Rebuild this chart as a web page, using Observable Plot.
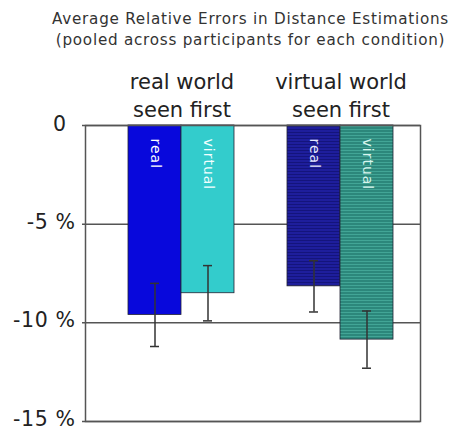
<!DOCTYPE html>
<html><head><meta charset="utf-8">
<script src="https://cdn.jsdelivr.net/npm/d3@7"></script>
<script src="https://cdn.jsdelivr.net/npm/@observablehq/plot@0.6"></script>
<style>body{margin:0;background:#fff} #chart{width:453px;height:430px}</style>
</head><body><div id="chart"></div>
<script>
// ---- data ----
const titleLines = ["Average Relative Errors in Distance Estimations", "(pooled across participants for each condition)"];
const conditions = ["real world\nseen first", "virtual world\nseen first"];
const series = ["real", "virtual"];
const meanError = [-9.6, -8.5, -8.15, -10.85];   // percent, order: cond0-real, cond0-virtual, cond1-real, cond1-virtual
const errorHalf = [1.6, 1.4, 1.3, 1.45];
const yTicks = [0, -5, -10, -15];

// ---- styles ----
const fills = ["#0808dc", "#33cccc", "url(#stripeNavy)", "url(#stripeTeal)"];
const labelFills = ["#ffffff", "#f2ffff", "#e6e8ff", "#d8f6ee"];

const key = (c, s) => c + "|" + s;
const rows = [];
conditions.forEach((c, i) => series.forEach((s, j) => {
  const k = i * series.length + j;
  rows.push({cond: c, series: s, key: key(c, s), mean: meanError[k], err: errorHalf[k], fill: fills[k], lf: labelFills[k]});
}));
const xDomain = [key(conditions[0], series[0]), key(conditions[0], series[1]), "spacer", key(conditions[1], series[0]), key(conditions[1], series[1])];
const groupRows = conditions.map(c => ({cond: c, key: key(c, series[0])}));
const font = "DejaVu Sans";

const plot = Plot.plot({
  width: 453, height: 430,
  marginTop: 125, marginBottom: 9, marginLeft: 85, marginRight: 33,
  x: {domain: xDomain, range: [127, 394], padding: 0, axis: null},
  y: {domain: [-15, 0], axis: null},
  color: {type: "identity"},
  style: {fontFamily: font, background: "#fff"},
  marks: [
    Plot.ruleY(yTicks, {stroke: "#555", strokeWidth: 1.5, insetLeft: -3}),
    Plot.barY(rows, {x: "key", y: "mean", fill: "fill", stroke: "#223", strokeWidth: 0.8}),
    Plot.text(rows, {x: "key", y: () => 0, text: "series", rotate: 90, textAnchor: "start", dy: 13, fill: "lf", fontSize: 14, ariaDescription: "bar-labels"}),
    Plot.ruleX(rows, {x: "key", y1: d => d.mean - d.err, y2: d => d.mean + d.err, stroke: "#333", strokeWidth: 1.5}),
    Plot.tickY(rows, {x: "key", y: d => d.mean - d.err, stroke: "#333", strokeWidth: 1.5, insetLeft: 22, insetRight: 22}),
    Plot.tickY(rows, {x: "key", y: d => d.mean + d.err, stroke: "#333", strokeWidth: 1.5, insetLeft: 22, insetRight: 22}),
    Plot.frame({stroke: "#555", strokeWidth: 1.5}),
    // y tick labels
    Plot.text(yTicks.filter(t => t !== 0), {y: d => d, text: d => `${d} %`, frameAnchor: "left", textAnchor: "end", lineAnchor: "middle", dx: -10, dy: -2, fontSize: 20.5, fill: "#222", ariaDescription: "y-labels"}),
    Plot.text(yTicks.filter(t => t === 0), {y: d => d, text: d => `${d}`, frameAnchor: "left", textAnchor: "middle", lineAnchor: "middle", dx: -26, dy: -1, fontSize: 20.5, fill: "#222"}),
    // group labels
    Plot.text(groupRows, {x: "key", text: "cond", frameAnchor: "top", lineAnchor: "middle", dx: 27, dy: -31.7, lineHeight: 1.32, fontSize: 21, fill: "#222"}),
    // title
    Plot.text([titleLines.join("\n")], {text: d => d, frameAnchor: "top", lineAnchor: "middle", dx: -2.5, dy: -97.5, lineHeight: 1.33, fontSize: 15.2, fill: "#333", ariaDescription: "title"})
  ]
});

const svg = d3.select(plot);
svg.select('g[aria-description="title"]').style("letter-spacing", "0.75px");
svg.select('g[aria-description="bar-labels"]').style("letter-spacing", "1px");
svg.select('g[aria-description="y-labels"]').style("letter-spacing", "0.6px");

const defs = svg.insert("defs", ":first-child");
function stripes(id, base, line) {
  const p = defs.append("pattern").attr("id", id).attr("patternUnits", "userSpaceOnUse").attr("width", 6).attr("height", 3);
  p.append("rect").attr("width", 6).attr("height", 3).attr("fill", base);
  p.append("rect").attr("width", 6).attr("height", 1).attr("fill", line);
}
stripes("stripeNavy", "#1e1e9c", "#14147c");
stripes("stripeTeal", "#2c877b", "#42a596");

document.getElementById("chart").append(plot);
</script>
</body></html>
